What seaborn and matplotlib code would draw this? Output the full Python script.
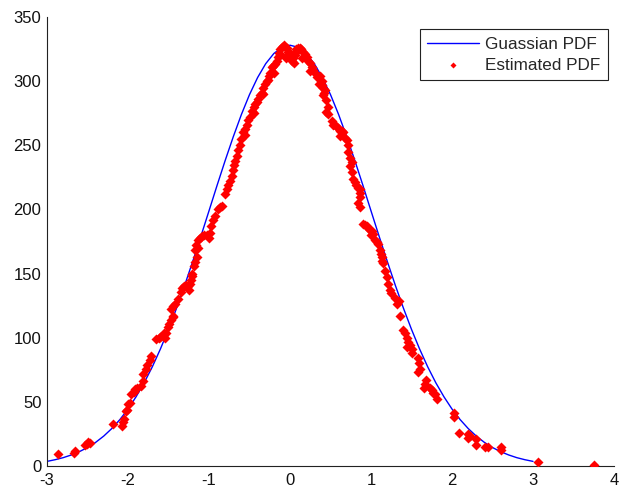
import matplotlib
matplotlib.use("Agg")
import matplotlib.pyplot as plt
import seaborn as sns
import pandas as pd

# Gaussian PDF curve
curve_x = [-3.0, -2.9, -2.8, -2.7, -2.6, -2.5, -2.4, -2.3, -2.2, -2.1, -2.0,
           -1.9, -1.8, -1.7, -1.6, -1.5, -1.4, -1.3, -1.2, -1.1, -1.0,
           -0.9, -0.8, -0.7, -0.6, -0.5, -0.4, -0.3, -0.2, -0.1, 0.0,
           0.1, 0.2, 0.3, 0.4, 0.5, 0.6, 0.7, 0.8, 0.9, 1.0,
           1.1, 1.2, 1.3, 1.4, 1.5, 1.6, 1.7, 1.8, 1.9, 2.0,
           2.1, 2.2, 2.3, 2.4, 2.5, 2.6, 2.7, 2.8, 2.9, 3.0]
curve_y = [3.6, 4.9, 6.5, 8.6, 11.2, 14.4, 18.4, 23.3, 29.2, 36.2, 44.4,
           54.0, 64.9, 77.3, 91.2, 106.5, 123.1, 140.9, 159.7, 179.1, 198.9,
           218.8, 238.2, 256.7, 274.0, 289.5, 302.8, 313.6, 321.5, 326.4, 328.0,
           326.4, 321.5, 313.6, 302.8, 289.5, 274.0, 256.7, 238.2, 218.8, 198.9,
           179.1, 159.7, 140.9, 123.1, 106.5, 91.2, 77.3, 64.9, 54.0, 44.4,
           36.2, 29.2, 23.3, 18.4, 14.4, 11.2, 8.6, 6.5, 4.9, 3.6]

# Estimated PDF points
est_x = [-2.86, -2.67, -2.66, -2.53, -2.51, -2.49, -2.47,
         -2.18, -2.07, -2.06, -2.05,
         -2.03, -2.01, -2.00, -1.98, -1.96, -1.93, -1.91, -1.89,
         -1.84, -1.82, -1.81, -1.78, -1.76, -1.73, -1.72,
         -1.65, -1.62, -1.60, -1.57, -1.54, -1.53, -1.51, -1.49, -1.47, -1.45, -1.44,
         -1.47, -1.445, -1.42, -1.38, -1.35, -1.33, -1.31, -1.29, -1.26, -1.24, -1.22, -1.21, -1.215,
         -1.18, -1.17, -1.15, -1.17, -1.16, -1.13, -1.11, -1.09, -1.06, -1.03, -0.99, -0.97, -0.95,
         -0.93, -0.89, -0.86, -0.84,
         -0.80, -0.78, -0.76, -0.74, -0.72, -0.70, -0.69, -0.68, -0.66, -0.64, -0.62, -0.60, -0.58,
         -0.556, -0.535, -0.515, -0.494, -0.47, -0.45, -0.43, -0.41, -0.39, -0.37, -0.35, -0.33,
         -0.31, -0.29, -0.27, -0.26, -0.247, -0.226, -0.205, -0.185, -0.165, -0.15, -0.135, -0.124,
         -0.10, -0.08, -0.06, -0.04, -0.03, -0.02, 0.0, 0.02, 0.04, 0.06, 0.07, 0.08, 0.10, 0.124,
         0.14, 0.165, 0.18, 0.206, 0.22, 0.247, 0.268, 0.288, 0.31, 0.33, 0.35, 0.37, 0.39, 0.40,
         0.41, 0.42, 0.43, 0.41, 0.45, 0.47, 0.47, 0.515, 0.535, 0.556, 0.577, 0.60, 0.62, 0.64,
         0.66, 0.68, 0.70, 0.72, 0.74, 0.76, 0.74, 0.76, 0.78, 0.80, 0.82, 0.845, 0.865, 0.865,
         0.845, 0.865, 0.906, 0.93, 0.948, 0.97, 0.99, 1.01, 1.03, 1.05, 1.07, 1.09, 1.11, 1.12,
         1.13, 1.15, 1.17, 1.195, 1.215, 1.236, 1.25, 1.30, 1.32, 1.34, 1.36, 1.40, 1.42, 1.44,
         1.46, 1.48, 1.50, 1.50, 1.586, 1.59, 1.60, 1.586, 1.67, 1.65, 1.68, 1.75, 1.73, 1.77,
         1.79, 1.81,
         2.02, 2.02, 2.09, 2.20, 2.22, 2.20, 2.30, 2.30, 2.41, 2.45, 2.60, 2.60, 3.06, 3.75,
         -0.12, -0.05, 0.0, 0.05, 0.15, 0.25, 0.45, 0.36, -0.45, -0.33, -0.2, -1.0, -1.25,
         -0.55, 0.62, 0.72, 1.0, -1.55, -1.13, 0.86, 1.14, 1.45]
est_y = [9, 10.5, 12, 16, 17.5, 19, 18,
         33, 31, 34, 36.5,
         43, 44, 48.5, 49, 56, 58, 60, 61,
         62, 66, 72, 76, 79, 83, 86,
         99, 100, 100.5, 101, 99.5, 104, 108, 111, 114, 116, 117,
         122, 124.5, 126, 130, 136, 139, 140, 141, 140, 142, 145, 148, 150,
         156, 159, 163, 168, 172, 176, 177.5, 179, 180, 180, 182, 187, 192,
         195, 200, 202, 203,
         212, 216, 219, 222, 226, 231, 235, 238, 242, 246, 250, 255, 260,
         263, 266, 270, 272, 277, 280, 282, 284, 286, 289, 291, 295,
         298, 300, 301, 304, 306, 311, 312, 313, 316, 319, 322, 325,
         327, 328, 327, 326, 323, 321, 318, 316, 318, 320, 323, 325, 326, 326,
         325, 323, 321, 319, 316, 314, 311, 309, 306, 303, 303, 304, 300, 297,
         295, 291, 293, 289, 276, 274, 280, 269, 266, 266, 264, 263, 261, 261,
         260, 256, 254, 250, 240, 237, 234, 229, 224, 221, 219, 217, 216, 210,
         205, 202, 189, 188, 187, 185, 184, 183, 181, 176, 175, 173, 168, 165,
         163, 158, 152, 147, 142, 137, 135, 131, 126, 129, 117, 106, 104, 100,
         97, 94, 91, 88, 84, 80, 76, 73, 64, 61, 67, 59, 61, 57,
         56, 52,
         41, 38, 26, 25, 23, 21.5, 21, 16.5, 15, 15, 15, 12.5, 3, 1,
         320, 318, 322, 314, 318, 308, 285, 298, 275, 290, 306, 178, 137,
         258, 257, 245, 180, 104, 170, 213, 160, 93]

x_ticks = [-3, -2, -1, 0, 1, 2, 3, 4]
y_ticks = [0, 50, 100, 150, 200, 250, 300, 350]

curve_df = pd.DataFrame({"x": curve_x, "y": curve_y})
est_df = pd.DataFrame({"x": est_x, "y": est_y})

sns.set_theme(style="white")
plt.rcParams["font.family"] = ["Liberation Sans", "DejaVu Sans"]

fig = plt.figure(figsize=(6.3, 4.91), dpi=100)
ax = fig.add_axes([47 / 630, 25 / 491, 567 / 630, 449 / 491])

sns.lineplot(data=curve_df, x="x", y="y", color="#0000ff", linewidth=1.0,
             sort=False, estimator=None, ax=ax, label="Guassian PDF")
sns.scatterplot(data=est_df, x="x", y="y", color="#ff0000", marker="D", s=26,
                linewidth=0, ax=ax, label="Estimated PDF", zorder=3)

ax.set_xlim(-3, 4)
ax.set_ylim(0, 350)
ax.set_xticks(x_ticks)
ax.set_yticks(y_ticks)
ax.set_xticklabels([str(t) for t in x_ticks])
ax.set_yticklabels([str(t) for t in y_ticks])
ax.set_xlabel("")
ax.set_ylabel("")
ax.tick_params(direction="in", length=5, width=0.8, colors="#222222",
               labelsize=12, labelcolor="#111111", pad=4)
ax.tick_params(axis="x", pad=5)
for side in ["top", "right"]:
    ax.spines[side].set_visible(False)
for side in ["left", "bottom"]:
    ax.spines[side].set_color("#222222")
    ax.spines[side].set_linewidth(0.8)

leg = ax.legend(loc="upper right", bbox_to_anchor=(0.99, 0.973), borderaxespad=0,
                fontsize=12.3, frameon=True, fancybox=False, handlelength=3.0,
                handletextpad=0.4, markerscale=0.6, borderpad=0.45, labelspacing=0.35)
leg.get_frame().set_edgecolor("#222222")
leg.get_frame().set_linewidth(0.8)
leg.get_frame().set_alpha(1)

fig.savefig("out.png", dpi=100)
